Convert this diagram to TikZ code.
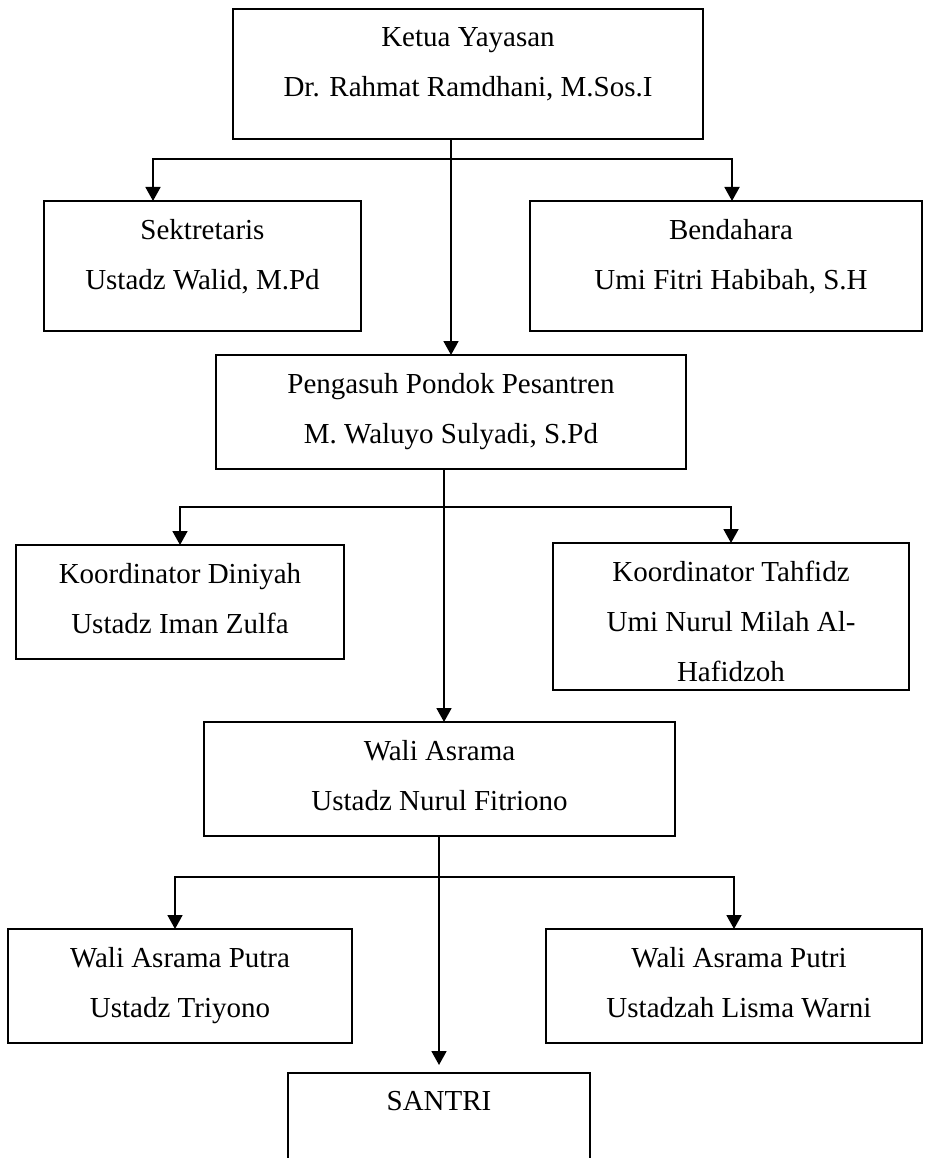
\documentclass[tikz,border=0pt]{standalone}
\usepackage{fontspec}
\setmainfont{Liberation Serif}
\usetikzlibrary{arrows.meta}

\tikzset{
  box/.style={draw, line width=1.8pt, anchor=north west, inner sep=0pt, outer sep=0pt},
  txt/.style={anchor=north, align=center, inner sep=0pt, font=\fontsize{29}{50}\selectfont},
  link/.style={line width=1.8pt},
  arr/.style={link, -{Triangle[length=14pt,width=15pt]}},
}

\begin{document}
\begin{tikzpicture}[x=1pt, y=-1pt]
  \useasboundingbox (0,0) rectangle (924,1158);
  \clip (0,0) rectangle (924,1158);

  % Ketua Yayasan
  \node[box, minimum width=470pt, minimum height=130pt] (ketua) at (233,9) {};
  \node[txt] (ketua-txt) at ([yshift=-18pt]ketua.north) {Ketua Yayasan\\Dr. Rahmat Ramdhani, M.Sos.I};

  % Sekretaris and Bendahara
  \node[box, minimum width=317pt, minimum height=130pt] (sekre) at (44,201) {};
  \node[txt] (sekre-txt) at ([yshift=-18pt]sekre.north) {Sektretaris\\Ustadz Walid, M.Pd};
  \node[box, minimum width=392pt, minimum height=130pt] (bend) at (530,201) {};
  \node[txt] (bend-txt) at ([xshift=5pt,yshift=-18pt]bend.north) {Bendahara\\Umi Fitri Habibah, S.H};

  % Pengasuh
  \node[box, minimum width=470pt, minimum height=114pt] (pengasuh) at (216,355) {};
  \node[txt] (pengasuh-txt) at ([yshift=-18pt]pengasuh.north) {Pengasuh Pondok Pesantren\\M. Waluyo Sulyadi, S.Pd};

  % Koordinator
  \node[box, minimum width=328pt, minimum height=114pt] (diniyah) at (16,545) {};
  \node[txt] (diniyah-txt) at ([yshift=-18pt]diniyah.north) {Koordinator Diniyah\\Ustadz Iman Zulfa};
  \node[box, minimum width=356pt, minimum height=147pt] (tahfidz) at (553,543) {};
  \node[txt] (tahfidz-txt) at ([yshift=-18pt]tahfidz.north) {Koordinator Tahfidz\\Umi Nurul Milah Al-\\Hafidzoh};

  % Wali Asrama
  \node[box, minimum width=471pt, minimum height=114pt] (wali) at (204,722) {};
  \node[txt] (wali-txt) at ([yshift=-18pt]wali.north) {Wali Asrama\\Ustadz Nurul Fitriono};
  \node[box, minimum width=344pt, minimum height=114pt] (putra) at (8,929) {};
  \node[txt] (putra-txt) at ([yshift=-18pt]putra.north) {Wali Asrama Putra\\Ustadz Triyono};
  \node[box, minimum width=376pt, minimum height=114pt] (putri) at (546,929) {};
  \node[txt] (putri-txt) at ([xshift=5pt,yshift=-18pt]putri.north) {Wali Asrama Putri\\Ustadzah Lisma Warni};

  % Santri
  \node[box, minimum width=302pt, minimum height=110pt] (santri) at (288,1073) {};
  \node[txt] (santri-txt) at ([yshift=-18pt]santri.north) {SANTRI};

  % Connectors
  \coordinate (k-left) at (153,159);
  \coordinate (k-right) at (732,159);
  \draw[arr] (k-right) -- (k-left) -- (k-left |- sekre.north);
  \draw[arr] (k-left) -- (k-right) -- (k-right |- bend.north);
  \draw[arr] (ketua.south -| pengasuh.north) -- (pengasuh.north);

  \coordinate (p-left) at (180,507);
  \coordinate (p-right) at (731,507);
  \coordinate (p-trunk) at (444,507);
  \draw[arr] (p-right) -- (p-left) -- (p-left |- diniyah.north);
  \draw[arr] (p-left) -- (p-right) -- (p-right |- tahfidz.north);
  \draw[arr] (pengasuh.south -| p-trunk) -- (wali.north -| p-trunk);

  \coordinate (w-left) at (175,877);
  \coordinate (w-right) at (734,877);
  \coordinate (w-trunk) at (439,877);
  \draw[arr] (w-right) -- (w-left) -- (w-left |- putra.north);
  \draw[arr] (w-left) -- (w-right) -- (w-right |- putri.north);
  \draw[arr, shorten >=8pt] (wali.south -| w-trunk) -- (santri.north -| w-trunk);
\end{tikzpicture}
\end{document}
